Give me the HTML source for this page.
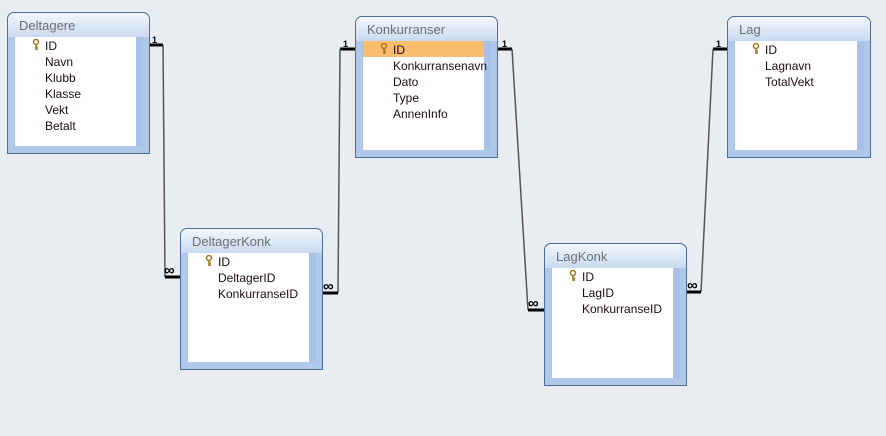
<!DOCTYPE html>
<html><head><meta charset="utf-8"><style>
body{margin:0;width:886px;height:436px;background:#e9edf1;position:relative;overflow:hidden;font-family:"Liberation Sans",sans-serif;}
.t{position:absolute;width:143px;height:142px;border:1px solid #4a6d9a;border-radius:7px 7px 0 0;background:linear-gradient(#f3f7fc,#c9daf0 24px,#b0c8ea 24px);box-sizing:border-box;}
.t .h{position:absolute;left:11px;top:5px;font-size:13px;color:#6a6f78;}
.t .b{position:absolute;left:6px;right:6px;top:24px;bottom:7px;background:#fff;border-left:1px solid #a9c1e6;border-right:7px solid #a9c1e6;}
.t .r{position:absolute;left:30px;font-size:12px;color:#1a0a14;height:16px;line-height:16px;}
.t .sel{position:absolute;left:0;right:0;top:0;height:16px;background:#fdbd6f;}
.k{position:absolute;left:17px;top:2px;}
</style></head><body>
<svg width="886" height="436" style="position:absolute;left:0;top:0">
<g fill="none" stroke="#000">
<path d="M149 45H163" stroke-width="3"/><path d="M163 45L165 277" stroke="#555" stroke-width="1.5"/><path d="M165 277H180" stroke-width="3"/>
<path d="M355 49H340" stroke-width="3"/><path d="M340 49L338 293" stroke="#555" stroke-width="1.5"/><path d="M338 293H322" stroke-width="3"/>
<path d="M497 49H512" stroke-width="3"/><path d="M512 49L528 310" stroke="#555" stroke-width="1.5"/><path d="M528 310H544" stroke-width="3"/>
<path d="M727 49H713" stroke-width="3"/><path d="M713 49L701 292" stroke="#555" stroke-width="1.5"/><path d="M701 292H686" stroke-width="3"/>
</g>
<g font-family="Liberation Sans" font-size="9" font-weight="bold">
<text x="152" y="43">1</text><text x="343" y="47">1</text><text x="502" y="47">1</text><text x="716" y="47">1</text>
<text x="164" y="275" font-size="15">∞</text><text x="323" y="291" font-size="15">∞</text><text x="528" y="308" font-size="15">∞</text><text x="687" y="290" font-size="15">∞</text>
</g>
</svg>

<div class="t" style="left:7px;top:12px"><div class="h">Deltagere</div><div class="b">
<svg class="k" width="8" height="12"><circle cx="4" cy="3" r="2.5" fill="none" stroke="#a07818" stroke-width="1.5"/><path d="M4 5V11M4 8H6M4 10H6" stroke="#a07818" stroke-width="1.5"/></svg>
<div class="r" style="top:1px">ID</div><div class="r" style="top:17px">Navn</div><div class="r" style="top:33px">Klubb</div><div class="r" style="top:49px">Klasse</div><div class="r" style="top:65px">Vekt</div><div class="r" style="top:81px">Betalt</div></div></div>

<div class="t" style="left:355px;top:16px"><div class="h">Konkurranser</div><div class="b"><div class="sel"></div>
<svg class="k" width="8" height="12"><circle cx="4" cy="3" r="2.5" fill="none" stroke="#a07818" stroke-width="1.5"/><path d="M4 5V11M4 8H6M4 10H6" stroke="#a07818" stroke-width="1.5"/></svg>
<div class="r" style="top:1px">ID</div><div class="r" style="top:17px">Konkurransenavn</div><div class="r" style="top:33px">Dato</div><div class="r" style="top:49px">Type</div><div class="r" style="top:65px">AnnenInfo</div></div></div>

<div class="t" style="left:727px;top:16px;width:144px"><div class="h">Lag</div><div class="b">
<svg class="k" width="8" height="12"><circle cx="4" cy="3" r="2.5" fill="none" stroke="#a07818" stroke-width="1.5"/><path d="M4 5V11M4 8H6M4 10H6" stroke="#a07818" stroke-width="1.5"/></svg>
<div class="r" style="top:1px">ID</div><div class="r" style="top:17px">Lagnavn</div><div class="r" style="top:33px">TotalVekt</div></div></div>

<div class="t" style="left:180px;top:228px"><div class="h">DeltagerKonk</div><div class="b">
<svg class="k" width="8" height="12"><circle cx="4" cy="3" r="2.5" fill="none" stroke="#a07818" stroke-width="1.5"/><path d="M4 5V11M4 8H6M4 10H6" stroke="#a07818" stroke-width="1.5"/></svg>
<div class="r" style="top:1px">ID</div><div class="r" style="top:17px">DeltagerID</div><div class="r" style="top:33px">KonkurranseID</div></div></div>

<div class="t" style="left:544px;top:243px;height:143px"><div class="h">LagKonk</div><div class="b">
<svg class="k" width="8" height="12"><circle cx="4" cy="3" r="2.5" fill="none" stroke="#a07818" stroke-width="1.5"/><path d="M4 5V11M4 8H6M4 10H6" stroke="#a07818" stroke-width="1.5"/></svg>
<div class="r" style="top:1px">ID</div><div class="r" style="top:17px">LagID</div><div class="r" style="top:33px">KonkurranseID</div></div></div>
</body></html>
